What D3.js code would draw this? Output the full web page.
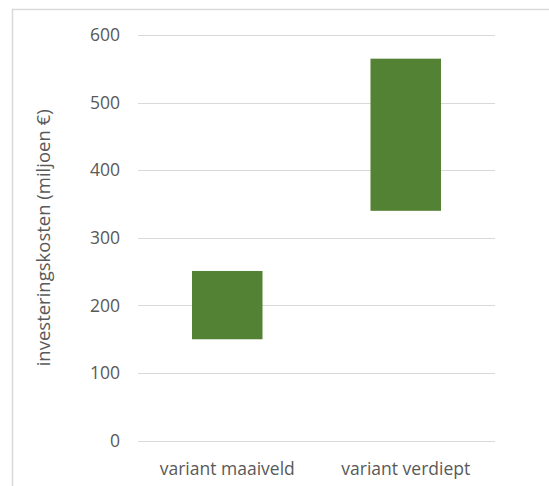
<!DOCTYPE html>
<html>
<head>
<meta charset="utf-8">
<script src="https://cdn.jsdelivr.net/npm/d3@7"></script>
<style>
  html, body { margin: 0; padding: 0; background: #fff; }
  svg { display: block; font-family: "Open Sans", "Noto Sans", sans-serif; }
</style>
</head>
<body>
<svg id="chart" width="549" height="486"></svg>
<script>
// Investment cost ranges (million €) per variant: lower and upper bound
const categories = ["variant maaiveld", "variant verdiept"];
const lowValues = [150, 340];
const highValues = [251, 565];
const yTicks = [0, 100, 200, 300, 400, 500, 600];
const yTitle = "investeringskosten (miljoen €)";

const svg = d3.select("#chart");
const textColor = "#595959";
const gridColor = "#d9d9d9";
const barColor = "#548235";

// outer chart frame
svg.append("rect")
  .attr("x", 12.5).attr("y", 9.5)
  .attr("width", 600).attr("height", 600)
  .attr("fill", "none")
  .attr("stroke", gridColor)
  .attr("stroke-width", 1.5);

const plot = { left: 138, right: 495, top: 35, bottom: 440.7 };

const y = d3.scaleLinear().domain([0, 600]).range([plot.bottom, plot.top]);
const x = d3.scaleBand().domain(categories).range([plot.left, plot.right]).padding(0);

// horizontal gridlines
svg.append("g").selectAll("line").data(yTicks).join("line")
  .attr("x1", plot.left).attr("x2", plot.right)
  .attr("y1", d => Math.round(y(d)) + 0.5).attr("y2", d => Math.round(y(d)) + 0.5)
  .attr("stroke", gridColor).attr("stroke-width", 1);

// y tick labels
svg.append("g").selectAll("text").data(yTicks).join("text")
  .attr("x", 120).attr("y", d => y(d))
  .attr("dy", "0.35em")
  .attr("text-anchor", "end")
  .attr("fill", textColor)
  .attr("font-size", 17.5)
  .text(d => d);

// floating range bars
const barW = x.bandwidth() * 0.395;
svg.append("g").selectAll("rect").data(categories).join("rect")
  .attr("x", d => x(d) + (x.bandwidth() - barW) / 2)
  .attr("width", barW)
  .attr("y", (d, i) => y(highValues[i]))
  .attr("height", (d, i) => y(lowValues[i]) - y(highValues[i]))
  .attr("fill", barColor);

// category labels
svg.append("g").selectAll("text").data(categories).join("text")
  .attr("x", d => x(d) + x.bandwidth() / 2)
  .attr("y", 474.5)
  .attr("text-anchor", "middle")
  .attr("fill", textColor)
  .attr("font-size", 17.5)
  .text(d => d);

// y axis title, centred on the plot area
svg.append("text")
  .attr("transform", `translate(50,${(plot.top + plot.bottom) / 2}) rotate(-90)`)
  .attr("text-anchor", "middle")
  .attr("fill", textColor)
  .attr("font-size", 18.5)
  .text(yTitle);
</script>
</body>
</html>
